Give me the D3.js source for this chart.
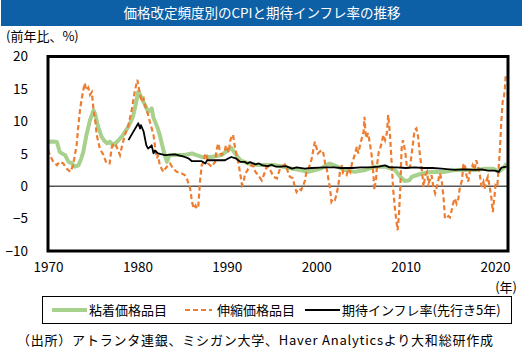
<!DOCTYPE html>
<html><head><meta charset="utf-8">
<script src="https://cdn.jsdelivr.net/npm/d3@7"></script>
<style>
html,body{margin:0;padding:0;background:#fff;}
svg{display:block;}
text{font-family:"Noto Sans CJK JP","Noto Sans",sans-serif;}
</style></head>
<body>
<script>
const titleText = "価格改定頻度別のCPIと期待インフレ率の推移";
const unitText = "(前年比、%)";
const yearUnit = "(年)";
const sourceText = "（出所）アトランタ連銀、ミシガン大学、Haver Analyticsより大和総研作成";
const seriesNames = ["粘着価格品目", "伸縮価格品目", "期待インフレ率(先行き5年)"];
const yTicks = [-10, -5, 0, 5, 10, 15, 20];
const xTicks = [1970, 1980, 1990, 2000, 2010, 2020];

// 粘着価格品目
const stickyYears = [1970.0,1970.5,1971.0,1971.3,1971.6,1971.9,1972.3,1972.6,1973.0,1973.4,1973.7,1973.95,1974.3,1974.7,1975.1,1975.3,1975.6,1976.0,1976.3,1976.6,1976.9,1977.3,1977.6,1977.9,1978.4,1979.0,1979.5,1979.8,1980.1,1980.3,1980.85,1981.2,1981.4,1981.6,1981.8,1982.2,1982.5,1982.9,1983.3,1983.6,1984.2,1985.3,1986.1,1986.6,1987.2,1988.3,1989.4,1990.2,1990.5,1990.9,1991.5,1992.4,1993.5,1995.4,1996.3,1997.3,1998.2,1999.1,1999.9,2000.5,2001.0,2001.5,2002.0,2003.2,2004.3,2005.5,2006.6,2007.7,2008.8,2009.4,2009.9,2010.4,2010.7,2011.8,2012.9,2014.4,2015.5,2016.6,2017.8,2018.9,2019.8,2020.4,2020.9,2021.3];
const stickyValues = [6.85,6.9,6.8,5.3,5.0,4.8,3.75,3.6,3.0,3.2,4.2,5.3,7.9,10.2,11.7,11.0,9.2,7.6,7.0,6.6,6.85,6.3,6.7,7.1,7.9,9.2,10.7,12.5,14.6,14.1,12.5,11.5,11.7,12.0,10.5,9.2,7.9,5.6,3.75,4.8,4.8,4.8,5.05,4.8,4.5,4.5,4.8,5.6,5.9,5.1,4.0,3.5,3.25,3.25,3.0,2.7,2.5,2.2,2.5,2.7,3.1,3.5,3.2,2.5,2.2,2.5,3.0,3.0,2.5,1.45,0.8,0.9,1.45,1.95,2.2,2.2,2.5,2.5,2.5,2.7,2.7,2.2,2.7,3.5];

// 伸縮価格品目
const flexYears = [1970.0,1970.2,1970.6,1971.0,1971.3,1971.7,1972.1,1972.5,1972.8,1973.2,1973.4,1973.6,1973.85,1974.1,1974.3,1974.5,1974.7,1974.9,1975.1,1975.3,1975.45,1975.8,1976.2,1976.55,1976.9,1977.1,1977.3,1977.6,1978.05,1978.3,1978.6,1979.0,1979.4,1979.7,1980.0,1980.1,1980.3,1980.5,1980.7,1980.85,1981.2,1981.4,1981.8,1982.05,1982.2,1982.3,1982.5,1982.9,1983.0,1983.3,1983.65,1984.0,1984.4,1984.95,1985.3,1985.6,1985.9,1986.1,1986.3,1986.5,1986.65,1986.8,1987.0,1987.2,1987.4,1987.6,1987.75,1987.9,1988.3,1988.7,1988.85,1989.05,1989.2,1989.4,1989.75,1989.9,1990.2,1990.4,1990.6,1990.7,1990.9,1991.1,1991.3,1991.5,1991.7,1991.9,1992.0,1992.4,1992.8,1993.0,1993.2,1993.5,1993.9,1994.2,1994.45,1994.8,1995.2,1995.6,1995.95,1996.1,1996.5,1996.7,1997.05,1997.4,1997.6,1997.8,1998.05,1998.3,1998.5,1998.75,1998.9,1999.3,1999.5,1999.7,1999.85,2000.0,2000.2,2000.6,2000.8,2001.0,2001.2,2001.35,2001.55,2001.7,2001.9,2002.1,2002.3,2002.5,2002.65,2002.9,2003.0,2003.4,2003.6,2003.8,2004.0,2004.3,2004.55,2004.7,2004.9,2005.1,2005.3,2005.4,2005.5,2005.6,2005.8,2006.0,2006.2,2006.4,2006.5,2006.7,2006.8,2007.0,2007.15,2007.35,2007.5,2007.7,2007.9,2008.05,2008.25,2008.45,2008.6,2008.8,2009.1,2009.25,2009.4,2009.55,2009.7,2009.85,2010.0,2010.15,2010.5,2010.75,2011.0,2011.2,2011.4,2011.6,2011.8,2012.0,2012.2,2012.4,2012.55,2012.7,2012.9,2013.1,2013.3,2013.5,2013.7,2013.85,2014.05,2014.25,2014.4,2014.6,2014.8,2014.95,2015.15,2015.3,2015.5,2015.7,2015.9,2016.05,2016.3,2016.45,2016.6,2016.8,2017.0,2017.2,2017.35,2017.5,2017.7,2017.9,2018.1,2018.3,2018.5,2018.7,2018.85,2019.0,2019.2,2019.4,2019.6,2019.75,2019.95,2020.05,2020.25,2020.4,2020.55,2020.7,2020.85,2021.0,2021.1,2021.2];
const flexValues = [5.6,4.8,3.75,3.25,3.75,3.5,2.7,2.2,3.2,6.3,9.4,12.0,14.1,15.9,14.8,15.2,14.1,14.5,11.7,9.9,7.9,5.8,4.8,3.5,3.5,5.8,6.6,6.3,4.8,6.3,7.9,9.4,12.0,14.6,16.4,15.6,14.1,13.0,13.5,12.5,11.0,9.9,7.9,5.3,4.3,4.8,3.25,2.2,2.5,3.0,3.5,2.7,2.2,1.95,1.7,0.9,-0.36,-2.4,-3.45,-3.0,-3.45,-3.3,0.7,3.25,3.75,5.05,4.8,3.5,3.0,3.75,5.6,6.6,5.6,4.8,5.3,6.3,5.2,7.1,7.9,7.9,6.1,4.8,3.5,1.95,0.15,0.7,1.7,2.7,3.25,3.0,2.2,1.7,0.9,1.95,3.0,2.7,1.45,1.2,2.7,3.0,3.35,2.7,1.45,1.2,-0.1,-0.9,-0.36,-0.6,-0.1,0.9,2.2,3.25,4.3,5.8,6.85,6.1,5.05,5.6,5.05,3.5,2.5,1.2,-0.36,-2.4,-1.9,-2.1,-1.1,0.4,2.2,3.25,1.95,1.7,2.7,2.2,3.5,4.8,6.1,5.05,6.3,7.4,8.4,10.7,8.4,7.4,8.2,6.6,4.8,1.7,-0.6,1.2,3.25,5.3,5.8,6.85,7.9,7.1,8.2,11.0,7.9,3.25,-0.36,-3.45,-6.8,-4.5,-0.36,5.8,7.1,6.1,4.8,2.8,3.0,5.8,8.65,8.9,7.6,4.8,2.7,-0.1,1.7,2.2,0.4,0.9,1.7,-0.1,-1.1,-0.1,1.2,1.95,0.7,-1.9,-5.0,-4.8,-4.6,-4.8,-3.7,-2.7,-1.9,-2.7,-1.9,-0.36,0.9,3.25,3.5,1.7,0.7,2.5,2.7,3.25,2.5,4.0,3.0,1.7,-0.1,0.7,-0.36,0.7,1.45,-0.1,-1.9,-4.0,-1.4,0.15,-0.1,2.7,5.8,9.9,13.0,13.8,15.1,17.2];

// 期待インフレ率(先行き5年)
const expYears = [1979.0,1979.5,1980.1,1980.3,1980.4,1980.7,1981.0,1981.2,1981.6,1981.8,1981.95,1982.3,1983.1,1984.2,1985.3,1985.7,1986.1,1987.2,1987.6,1987.8,1989.05,1989.8,1990.2,1990.5,1991.0,1991.5,1992.0,1992.3,1992.6,1993.2,1993.6,1994.0,1994.6,1995.0,1995.5,1996.1,1996.6,1997.3,1997.8,1998.75,1999.5,2000.4,2001.0,2002.0,2002.8,2004.0,2005.0,2006.0,2007.0,2007.7,2008.2,2009.0,2010.0,2011.0,2012.0,2013.0,2014.0,2015.5,2016.5,2017.8,2018.5,2019.2,2020.0,2020.4,2020.7,2021.3];
const expValues = [7.1,8.3,9.7,8.9,9.4,8.4,6.3,5.8,6.3,5.05,5.5,5.05,4.8,4.9,4.5,4.3,3.85,3.85,3.5,4.0,4.0,4.0,4.3,4.5,4.3,3.75,3.75,3.5,3.7,3.35,3.5,3.2,3.1,3.3,3.0,3.0,3.1,2.7,2.9,2.7,2.8,2.85,2.9,2.9,2.8,2.8,2.9,2.9,3.0,3.2,2.9,2.9,2.8,2.9,2.8,2.8,2.7,2.5,2.6,2.5,2.6,2.4,2.4,2.2,2.85,3.0];

const W = 523, H = 354;
const svg = d3.select("body").append("svg").attr("width", W).attr("height", H);

// title bar
svg.append("rect").attr("x", 1).attr("y", 0).attr("width", 521).attr("height", 26).attr("fill", "#0D5FA6");
svg.append("text").attr("x", 262).attr("y", 18).attr("text-anchor", "middle")
  .attr("fill", "#fff").attr("font-size", 13.5).text(titleText);

const pLeft = 48, pRight = 508, pTop = 56.5, pBottom = 251;
const x = d3.scaleLinear().domain([1970, 2021.45]).range([pLeft, pRight]);
const y = d3.scaleLinear().domain([-10, 20]).range([pBottom, pTop]);

svg.append("text").attr("x", 6).attr("y", 41).attr("font-size", 13).attr("fill", "#000").text(unitText);

// y axis labels
const yAxis = d3.axisLeft(y).tickValues(yTicks).tickSize(0).tickPadding(0).tickFormat(d3.format("d"));
const gy = svg.append("g").attr("transform", `translate(28,0)`).call(yAxis);
gy.select(".domain").remove();
gy.selectAll("text").attr("font-size", 13.5).attr("fill", "#000").attr("font-family", "'Noto Sans CJK JP','Noto Sans',sans-serif");

// x axis labels
const xAxis = d3.axisBottom(x).tickValues(xTicks).tickSize(0).tickPadding(0).tickFormat(d3.format("d"));
const gx = svg.append("g").attr("transform", `translate(0,262)`).call(xAxis);
gx.select(".domain").remove();
gx.selectAll("text").attr("font-size", 13.5).attr("fill", "#000").attr("font-family", "'Noto Sans CJK JP','Noto Sans',sans-serif");
svg.append("text").attr("x", 517).attr("y", 292).attr("text-anchor", "end").attr("font-size", 13).text(yearUnit);

// clip
svg.append("clipPath").attr("id", "plotclip").append("rect")
  .attr("x", pLeft).attr("y", pTop).attr("width", pRight - pLeft).attr("height", pBottom - pTop);

// zero line
svg.append("line").attr("x1", pLeft).attr("x2", pRight).attr("y1", y(0)).attr("y2", y(0))
  .attr("stroke", "#000").attr("stroke-width", 1);

const line = d3.line().x(d => x(d[0])).y(d => y(d[1]));
const gp = svg.append("g").attr("clip-path", "url(#plotclip)");
const sticky = d3.zip(stickyYears, stickyValues);
const flex = d3.zip(flexYears, flexValues);
const expd = d3.zip(expYears, expValues);

gp.append("path").datum(sticky).attr("d", line).attr("fill", "none")
  .attr("stroke", "#A9D18E").attr("stroke-width", 4).attr("stroke-linejoin", "round");
gp.append("path").datum(flex).attr("d", line).attr("fill", "none")
  .attr("stroke", "#ED7D31").attr("stroke-width", 2.2).attr("stroke-dasharray", "5,3");
gp.append("path").datum(expd).attr("d", line).attr("fill", "none")
  .attr("stroke", "#000").attr("stroke-width", 1.8).attr("stroke-linejoin", "round");

// frame
svg.append("rect").attr("x", pLeft).attr("y", pTop).attr("width", pRight - pLeft).attr("height", pBottom - pTop)
  .attr("fill", "none").attr("stroke", "#000").attr("stroke-width", 3);

// legend
svg.append("rect").attr("x", 42.5).attr("y", 296.5).attr("width", 469).attr("height", 27)
  .attr("fill", "#fff").attr("stroke", "#000").attr("stroke-width", 1);
const legendItems = [
  {x1: 52, x2: 87, tx: 89, color: "#A9D18E", w: 4, dash: null},
  {x1: 185, x2: 212, tx: 217, color: "#ED7D31", w: 2.2, dash: "5,3"},
  {x1: 305, x2: 340, tx: 342, color: "#000", w: 1.8, dash: null}
];
legendItems.forEach((it, i) => {
  const l = svg.append("line").attr("x1", it.x1).attr("x2", it.x2).attr("y1", 310).attr("y2", 310)
    .attr("stroke", it.color).attr("stroke-width", it.w);
  if (it.dash) l.attr("stroke-dasharray", it.dash);
  svg.append("text").attr("x", it.tx).attr("y", 315).attr("font-size", 13).text(seriesNames[i]);
});

// source
svg.append("text").attr("x", 17).attr("y", 345).attr("font-size", 13)
  .attr("textLength", 476).attr("lengthAdjust", "spacing").text(sourceText);
</script>
</body></html>
